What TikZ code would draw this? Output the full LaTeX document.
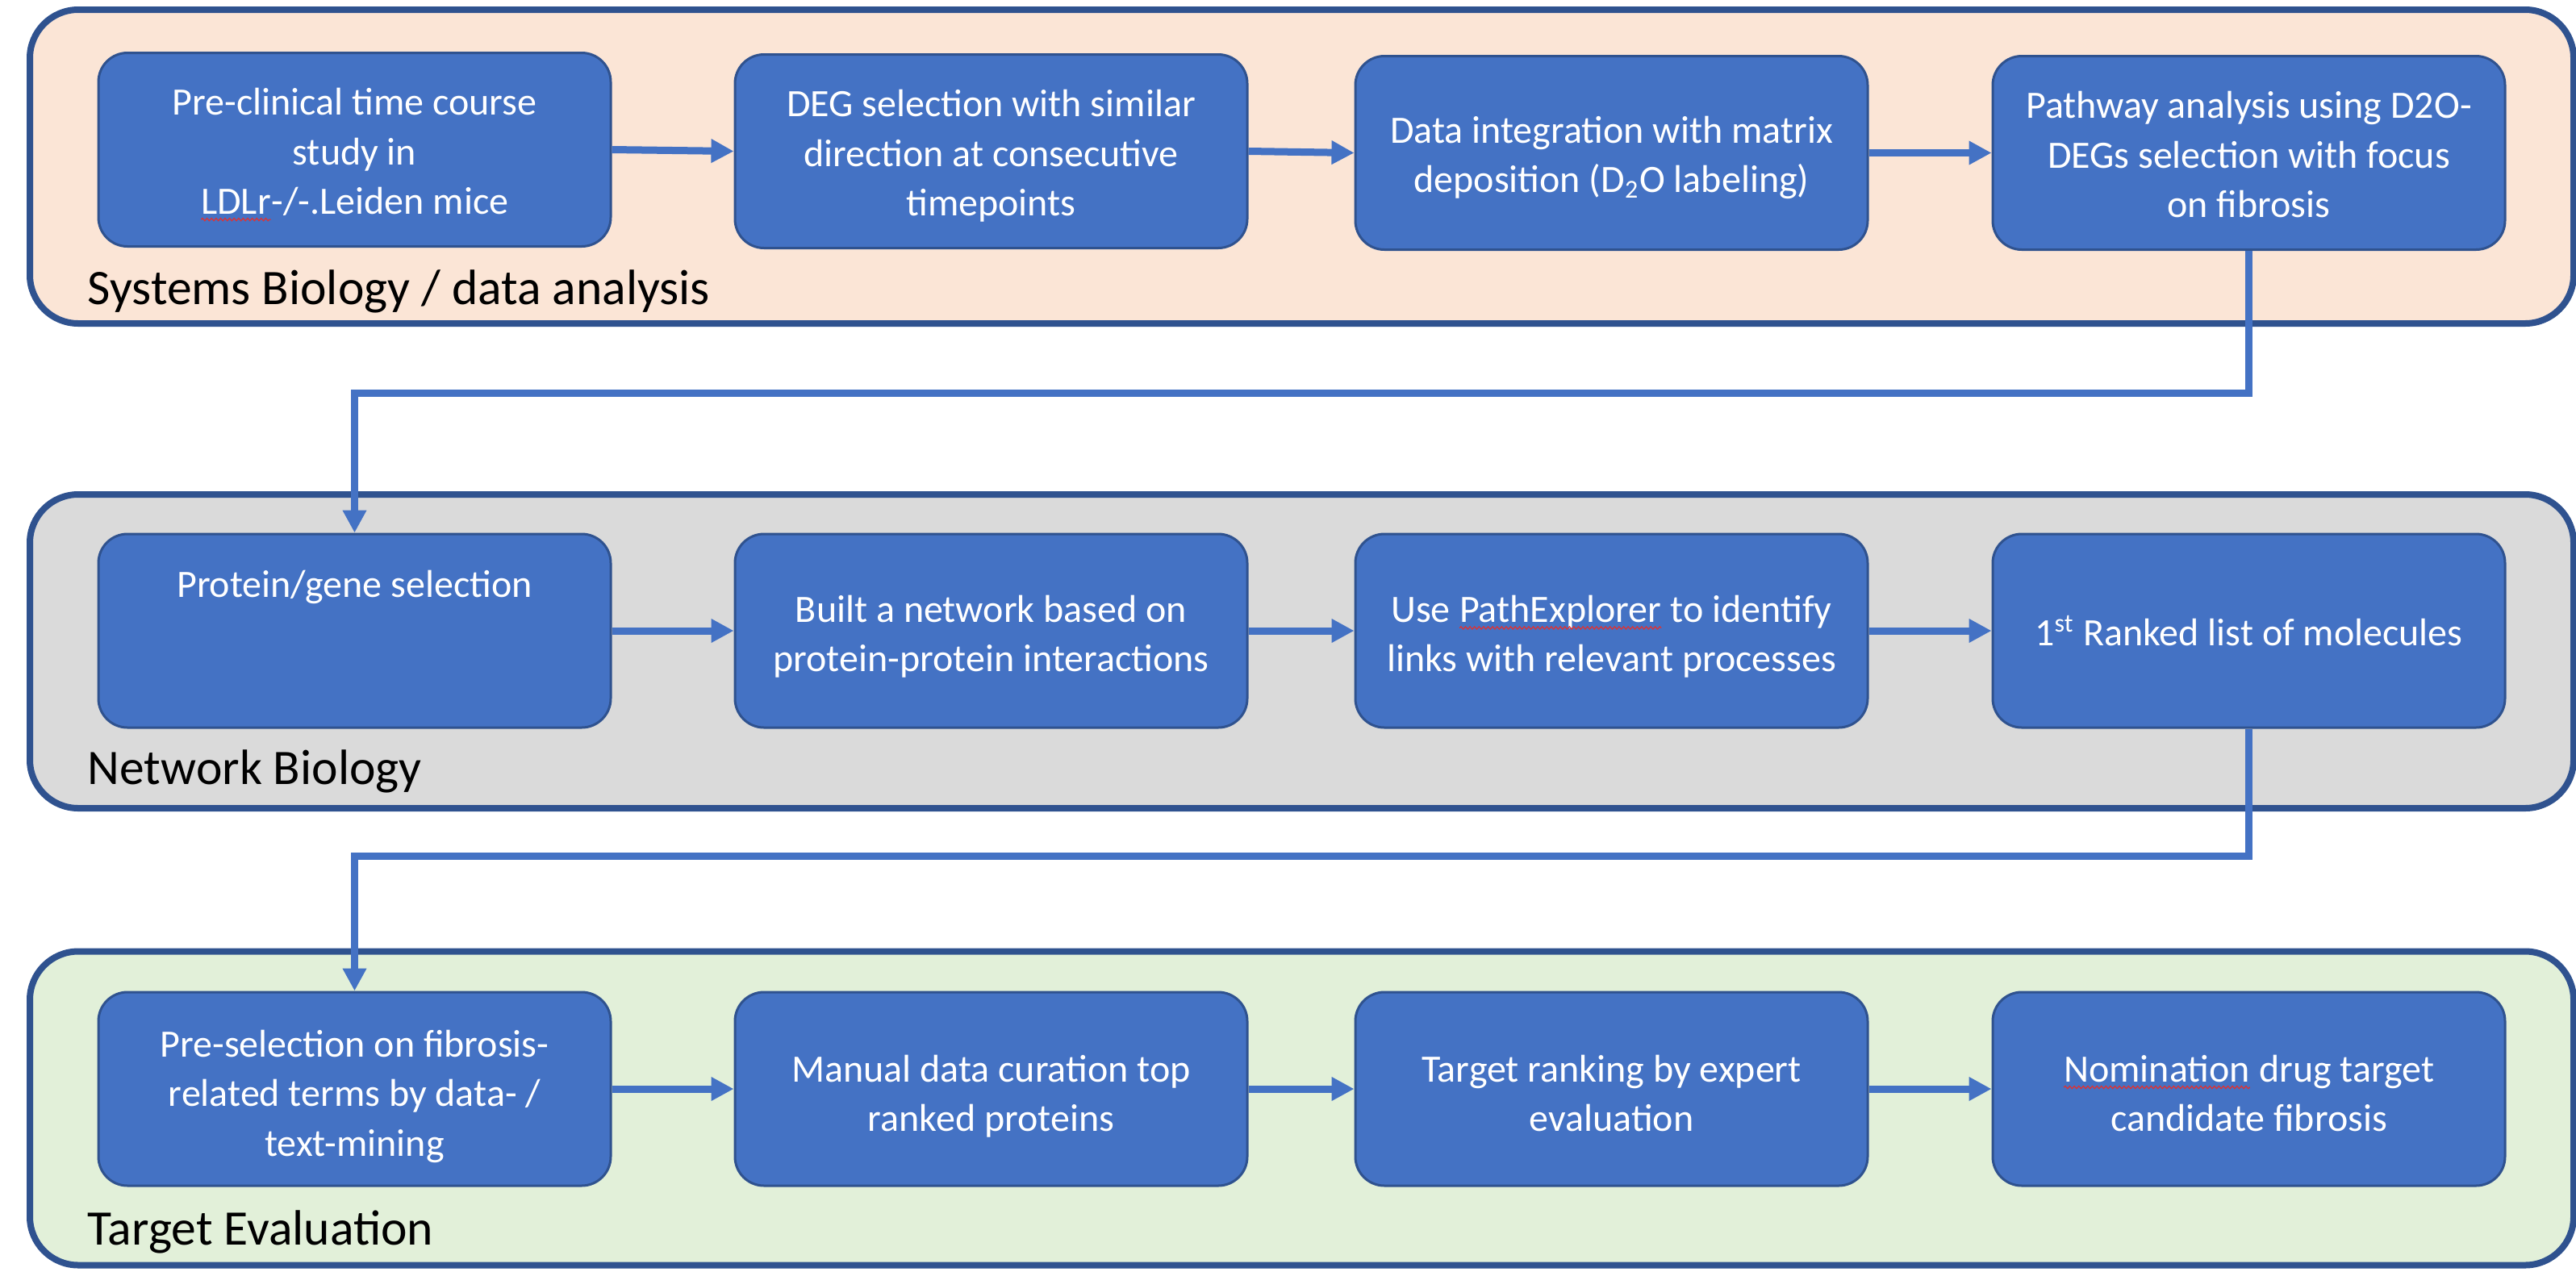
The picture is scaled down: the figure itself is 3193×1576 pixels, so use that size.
\documentclass[tikz,border=0pt]{standalone}
\usepackage{fontspec}
\setmainfont{Carlito}
\usetikzlibrary{arrows.meta,decorations.pathmorphing}

\definecolor{boxblue}{HTML}{4472C4}
\definecolor{edgeblue}{HTML}{2F528F}
\definecolor{peachfill}{HTML}{FBE5D6}
\definecolor{greyfill}{HTML}{DADADA}
\definecolor{greenfill}{HTML}{E2F0D9}
\definecolor{spellred}{HTML}{E03131}

% red wavy underline under a word
\newcommand\squig[1]{\tikz[baseline=(sqw.base),sharp corners]{%
  \node[shape=rectangle,inner sep=0pt,outer sep=0pt,minimum width=0pt,
    minimum height=0pt,draw=none,fill=none,sharp corners,anchor=center]
    (sqw) at (0,0) {#1};%
  \draw[spellred,line width=0.3pt,sharp corners,decorate,
    decoration={snake,amplitude=0.4pt,segment length=1.4pt}]
    ([yshift=-1.7pt]sqw.base west) -- ([yshift=-1.7pt]sqw.base east);}}

% centred block of lines, set a little below the middle of its box
\newcommand\boxlines[2][-2pt]{\raisebox{#1}[\height][\depth]{%
  \begin{tabular}{@{}c@{}}#2\end{tabular}}}

\begin{document}
\begin{tikzpicture}[x=0.25pt,y=-0.25pt,
  panel/.style={rectangle,draw=edgeblue,line width=2pt,rounded corners=15pt,
    minimum width=788.25pt,minimum height=97.25pt,inner sep=0pt},
  stepbox/.style={rectangle,draw=edgeblue,line width=0.75pt,fill=boxblue,
    rounded corners=9pt,minimum width=158.75pt,minimum height=60pt,inner sep=0pt,
    text=white,font=\fontsize{12pt}{15.3pt}\selectfont},
  lbl/.style={anchor=base west,inner sep=0pt,text=black,
    font=\fontsize{15.4pt}{18pt}\selectfont},
  conn/.style={draw=boxblue,line width=2.25pt,-{Triangle[length=7pt,width=7pt]}}]

\useasboundingbox (0,0) rectangle (3193,1576);

% three stage panels
\node[panel,fill=peachfill] (p1) at (1613.5,206.5) {};
\node[panel,fill=greyfill]  (p2) at (1613.5,807.5) {};
\node[panel,fill=greenfill] (p3) at (1613.5,1374) {};

\node[lbl] (l1) at (108,377)  {Systems Biology / data analysis};
\node[lbl] (l2) at (108,972)  {Network Biology};
\node[lbl] (l3) at (108,1543) {Target Evaluation};

% stage 1
\node[stepbox] (a1) at (439.5,185.5)  {\boxlines[-1.6pt]{Pre-clinical time course\\study in\\\squig{LDLr}-/-.Leiden mice}};
\node[stepbox] (a2) at (1228.5,187.5) {\boxlines[-1.6pt]{DEG selection with similar\\direction at consecutive\\timepoints}};
\node[stepbox] (a3) at (1997.5,189.5) {\boxlines[-1.6pt]{Data integration with matrix\\deposition (D\textsubscript{2}O labeling)}};
\node[stepbox] (a4) at (2787.5,189.5) {\boxlines[-1.6pt]{Pathway analysis using D2O-\\DEGs selection with focus\\on fibrosis}};

% stage 2
\node[stepbox] (b1) at (439.5,782)  {\raisebox{13.5pt}[\height][\depth]{Protein/gene selection}};
\node[stepbox] (b2) at (1228.5,782) {\boxlines{Built a network based on\\protein-protein interactions}};
\node[stepbox] (b3) at (1997.5,782) {\boxlines{Use \squig{PathExplorer} to identify\\links with relevant processes}};
\node[stepbox] (b4) at (2787.5,782) {1\textsuperscript{st} Ranked list of molecules};

% stage 3
\node[stepbox] (c1) at (439.5,1350)  {\boxlines[-2.4pt]{Pre-selection on fibrosis-\\related terms by data- /\\text-mining}};
\node[stepbox] (c2) at (1228.5,1350) {\boxlines[-2.4pt]{Manual data curation top\\ranked proteins}};
\node[stepbox] (c3) at (1997.5,1350) {\boxlines[-2.4pt]{Target ranking by expert\\evaluation}};
\node[stepbox] (c4) at (2787.5,1350) {\boxlines[-2.4pt]{\squig{Nomination} drug target\\candidate fibrosis}};

% flow within each stage
\draw[conn] (a1.east) -- (a2.west);
\draw[conn] (a2.east) -- (a3.west);
\draw[conn] (a3.east) -- (a4.west);
\draw[conn] (b1.east) -- (b2.west);
\draw[conn] (b2.east) -- (b3.west);
\draw[conn] (b3.east) -- (b4.west);
\draw[conn] (c1.east) -- (c2.west);
\draw[conn] (c2.east) -- (c3.west);
\draw[conn] (c3.east) -- (c4.west);

% hand-over between stages
\coordinate (j1) at (0,487);
\coordinate (j2) at (0,1061);
\draw[conn] (a4.south) -- (a4.south |- j1) -| (b1.north);
\draw[conn] (b4.south) -- (b4.south |- j2) -| (c1.north);
\end{tikzpicture}
\end{document}
